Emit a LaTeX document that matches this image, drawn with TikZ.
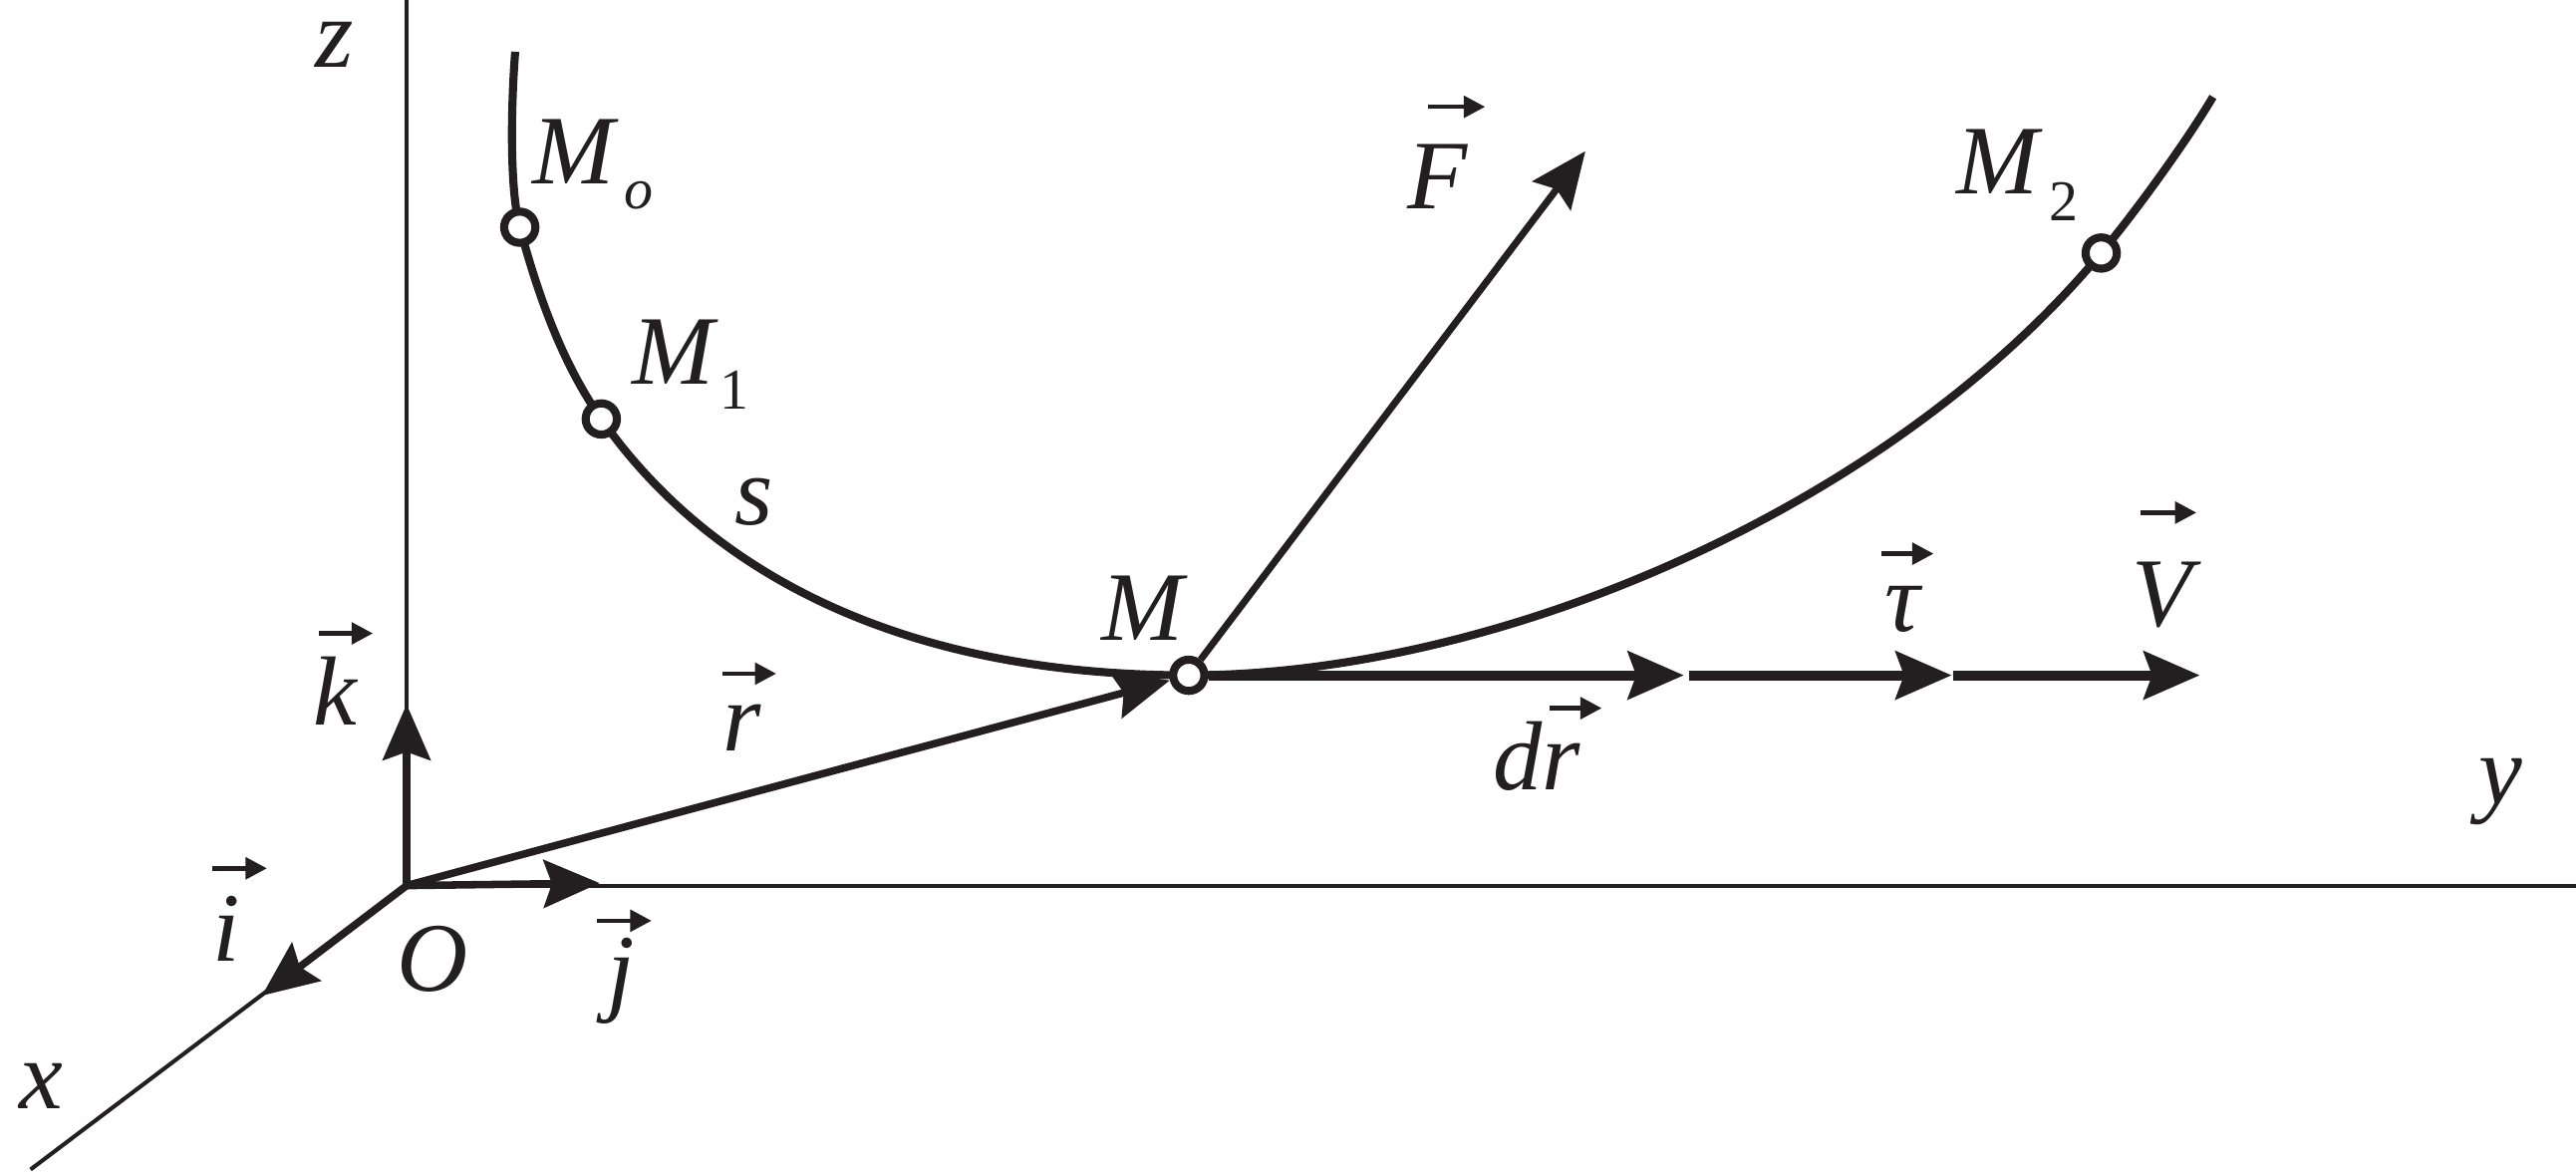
\documentclass[tikz,border=0pt]{standalone}
\usepackage{fontspec}
\setmainfont{Liberation Serif}
\usetikzlibrary{arrows.meta}
\definecolor{ink}{RGB}{35,31,32}
\begin{document}
\begin{tikzpicture}[x=0.01cm,y=-0.01cm,
  lbl/.style={inner sep=0,anchor=base,font=\fontsize{17pt}{20pt}\selectfont\itshape,text=ink},
  sub/.style={inner sep=0,anchor=base,font=\fontsize{10pt}{12pt}\selectfont,text=ink},
  subit/.style={sub,font=\fontsize{10pt}{12pt}\selectfont\itshape},
  axis/.style={draw=ink,line width=0.7pt},
  vec/.style={draw=ink,line width=1.3pt,-{Stealth[length=0.34cm,width=0.29cm,inset=0.05cm]}},
  hvec/.style={vec,line width=1.7pt},
  vbar/.style={draw=ink,line width=0.8pt,-{Triangle[length=0.13cm,width=0.13cm]}},
  pt/.style={circle,draw=ink,fill=white,line width=1.4pt,minimum size=0.19cm,inner sep=0},
  curve/.style={draw=ink,line width=1.4pt}
]
\useasboundingbox (0,0) rectangle (1568,713.3);
% coordinates
\coordinate (O) at (247.5,539);
\coordinate (ztop) at (247.5,0);
\coordinate (yend) at (1568,539);
\coordinate (xend) at (18.6,711.8);
\coordinate (ktip) at (247.5,428.6);
\coordinate (itip) at (159.4,606);
\coordinate (jtip) at (365,537.5);
\coordinate (Ftip) at (965,92);
\coordinate (drtip) at (1025,411);
\coordinate (taus) at (1028,411);
\coordinate (tautip) at (1188,411);
\coordinate (Vs) at (1189,411);
\coordinate (Vtip) at (1339,411);
\coordinate (cstart) at (313.6,31.5);
\coordinate (cend) at (1347,59);
\coordinate (pM0) at (316.4,138.3);
\coordinate (pM1) at (366,255);
\coordinate (pM) at (723.6,411);
\coordinate (pM2) at (1279,154);
% axes
\draw[axis] (O) -- (ztop);
\draw[axis] (O) -- (yend);
\draw[axis] (O) -- (xend);
% trajectory
\draw[curve] (cstart) .. controls (311.2,62) and (309.9,114.1) .. (pM0)
  .. controls (327.3,178.9) and (341.9,220.6) .. (pM1)
  .. controls (429.1,345.1) and (543.6,411) .. (pM)
  .. controls (913.6,411) and (1151,308) .. (pM2)
  .. controls (1301.4,127) and (1331.7,84.8) .. (cend);
% points
\node[pt] (M0) at (pM0) {};
\node[pt] (M1) at (pM1) {};
\node[pt] (M) at (pM) {};
\node[pt] (M2) at (pM2) {};
% vectors
\draw[vec] (O) -- (ktip);
\draw[vec] (O) -- (itip);
\draw[vec] (O) -- (jtip);
\draw[vec] (O) -- (M);
\draw[vec,line width=1.2pt] (M) -- (Ftip);
\draw[hvec] (M) -- (drtip);
\draw[hvec] (taus) -- (tautip);
\draw[hvec] (Vs) -- (Vtip);
% labels
\node[lbl] (lz) at (203.5,41) {z};
\node[lbl] (lM0) at (349,112) {M};
\node[subit] (lo) at (389,127) {o};
\node[lbl] (lM1) at (410,234) {M};
\node[sub] (l1) at (447,249) {1};
\node[lbl] (ls) at (459,319.5) {s};
\node[lbl] (lM) at (695.5,390) {M};
\node[lbl] (lF) at (875,127) {F};
\node[lbl] (lM2) at (1216,118) {M};
\node[sub] (l2) at (1256,134.5) {2};
\node[lbl] (lr) at (452,457) {r};
\node[lbl] (lk) at (204,441.5) {k};
\node[lbl] (li) at (138,585) {i};
\node[lbl] (lO) at (263.5,603) {O};
\node[lbl] (lj) at (378,610.4) {j};
\node[lbl] (lx) at (25,675) {x};
\node[lbl] (ly) at (1522,489) {y};
\node[lbl] (ldr) at (935.5,481) {dr};
\node[lbl] (ltau) at (1158,384) {τ};
\node[lbl] (lV) at (1316,381) {V};
% vector bars over letters
\draw[vbar] ([shift={(-6,-62)}]lF.base) -- ++(35,0);
\draw[vbar] ([shift={(-12.5,-47)}]lr.base) -- ++(33,0);
\draw[vbar] ([shift={(-10,-56)}]lk.base) -- ++(33,0);
\draw[vbar] ([shift={(-8.5,-56.5)}]li.base) -- ++(33,0);
\draw[vbar] ([shift={(-14.4,-50)}]lj.base) -- ++(33,0);
\draw[vbar] ([shift={(7.5,-50)}]ldr.base) -- ++(32,0);
\draw[vbar] ([shift={(-13,-47)}]ltau.base) -- ++(32,0);
\draw[vbar] ([shift={(-13,-69)}]lV.base) -- ++(34,0);
\end{tikzpicture}
\end{document}
